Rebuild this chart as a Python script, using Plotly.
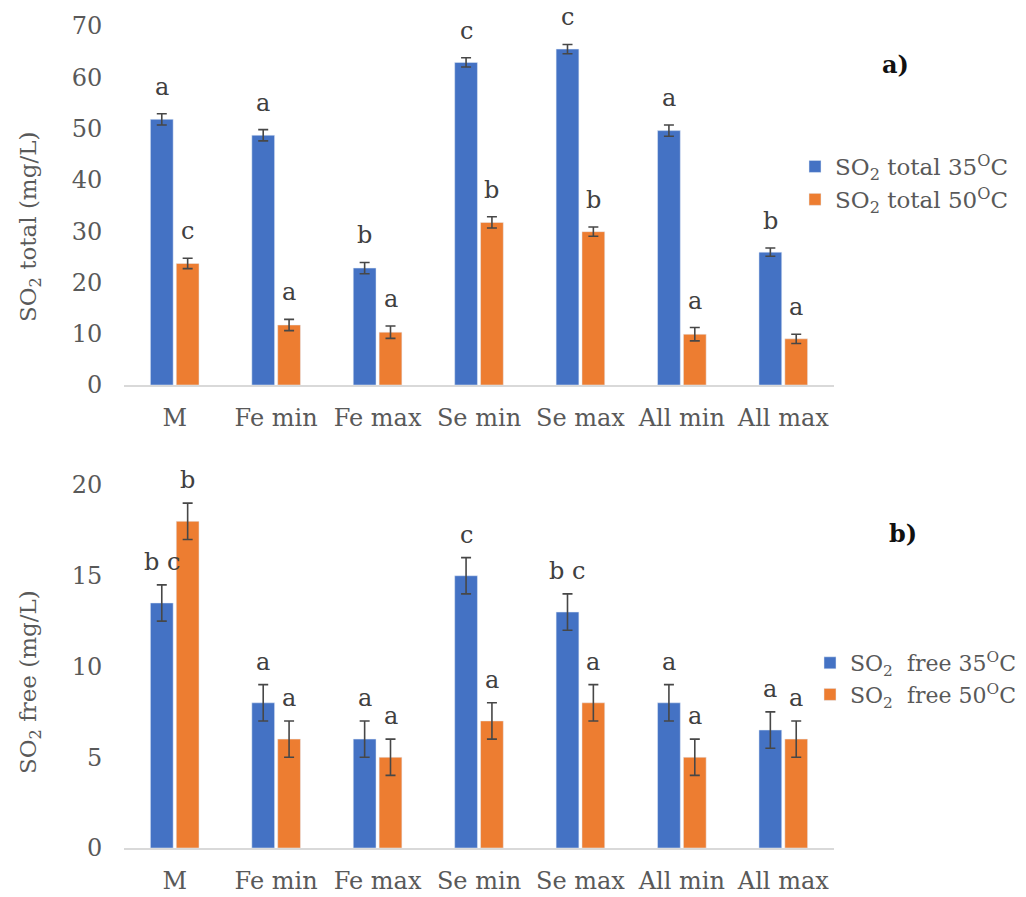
import plotly.graph_objects as go

categories = ["M", "Fe min", "Fe max", "Se min", "Se max", "All min", "All max"]

# Panel a) SO2 total (mg/L)
total_35 = [51.8, 48.7, 22.8, 62.9, 65.5, 49.6, 25.9]
total_35_err = [1.1, 1.1, 1.1, 0.9, 0.9, 1.1, 0.8]
total_50 = [23.7, 11.7, 10.3, 31.7, 29.9, 9.9, 9.0]
total_50_err = [1.0, 1.1, 1.2, 1.1, 0.9, 1.3, 0.9]
total_35_letters = ["a", "a", "b", "c", "c", "a", "b"]
total_50_letters = ["c", "a", "a", "b", "b", "a", "a"]

# Panel b) SO2 free (mg/L)
free_35 = [13.5, 8.0, 6.0, 15.0, 13.0, 8.0, 6.5]
free_35_err = [1.0, 1.0, 1.0, 1.0, 1.0, 1.0, 1.0]
free_50 = [18.0, 6.0, 5.0, 7.0, 8.0, 5.0, 6.0]
free_50_err = [1.0, 1.0, 1.0, 1.0, 1.0, 1.0, 1.0]
free_35_letters = ["b c", "a", "a", "c", "b c", "a", "a"]
free_50_letters = ["b", "a", "a", "a", "a", "a", "a"]

BLUE = "#4472C4"
ORANGE = "#ED7D31"
GRAY = "#595959"
ERR = "#474747"
FONT = "DejaVu Serif"

W, H = 1026, 897
fig = go.Figure()

def err(vals):
    return dict(type="data", array=vals, color=ERR, thickness=1.6, width=5, visible=True)

fig.add_trace(go.Bar(x=categories, y=total_35, error_y=err(total_35_err), marker_color=BLUE,
                     name="SO<sub>2</sub> total 35<sup>O</sup>C", xaxis="x", yaxis="y", legend="legend"))
fig.add_trace(go.Bar(x=categories, y=total_50, error_y=err(total_50_err), marker_color=ORANGE,
                     name="SO<sub>2</sub> total 50<sup>O</sup>C", xaxis="x", yaxis="y", legend="legend"))
fig.add_trace(go.Bar(x=categories, y=free_35, error_y=err(free_35_err), marker_color=BLUE,
                     name="SO<sub>2</sub>  free 35<sup>O</sup>C", xaxis="x2", yaxis="y2", legend="legend2"))
fig.add_trace(go.Bar(x=categories, y=free_50, error_y=err(free_50_err), marker_color=ORANGE,
                     name="SO<sub>2</sub>  free 50<sup>O</sup>C", xaxis="x2", yaxis="y2", legend="legend2"))

x0, x1 = 124 / W, 834 / W
bargap = 0.49
cat_px = (834 - 124) / len(categories)
off = cat_px * (1 - bargap) / 4

annotations = []
def add_letters(vals, errs, letters, side, xref, yref, shift):
    for c, v, e, t in zip(categories, vals, errs, letters):
        annotations.append(dict(x=c, y=v + e, xref=xref, yref=yref, text=t, showarrow=False,
                                xshift=side * off, yshift=shift, xanchor="center", yanchor="middle",
                                font=dict(family=FONT, size=24, color="#404040")))

add_letters(total_35, total_35_err, total_35_letters, -1, "x", "y", 27)
add_letters(total_50, total_50_err, total_50_letters, 1, "x", "y", 27)
add_letters(free_35, free_35_err, free_35_letters, -1, "x2", "y2", 23)
add_letters(free_50, free_50_err, free_50_letters, 1, "x2", "y2", 23)

def paper_text(px, py, text, size, color, angle=0):
    annotations.append(dict(x=px / W, y=1 - py / H, xref="paper", yref="paper", text=text,
                            showarrow=False, xanchor="center", yanchor="middle", textangle=angle,
                            font=dict(family=FONT, size=size, color=color)))

paper_text(895, 65, "<b>a)</b>", 24, "#111111")
paper_text(903, 533, "<b>b)</b>", 24, "#111111")
paper_text(30, 227, "SO<sub>2</sub> total (mg/L)", 23, GRAY, -90)
paper_text(30, 682, "SO<sub>2</sub> free (mg/L)", 23, GRAY, -90)

xaxis_style = dict(showgrid=False, showline=True, linecolor="#D9D9D9", linewidth=1.5,
                   ticks="outside", ticklen=10, tickcolor="rgba(0,0,0,0)", automargin=False,
                   tickfont=dict(family=FONT, size=24, color=GRAY), zeroline=False)
yaxis_style = dict(showgrid=False, showline=False, zeroline=False, automargin=False,
                   ticks="outside", ticklen=16, tickcolor="rgba(0,0,0,0)",
                   tickfont=dict(family=FONT, size=24, color=GRAY))

fig.update_layout(
    width=W, height=H,
    margin=dict(l=0, r=0, t=0, b=0, autoexpand=False),
    paper_bgcolor="white", plot_bgcolor="white",
    barmode="group", bargap=bargap, bargroupgap=0.12,
    font=dict(family=FONT, color=GRAY),
    xaxis=dict(domain=[x0, x1], anchor="y", **xaxis_style),
    yaxis=dict(domain=[1 - 385 / H, 1 - 26 / H], range=[0, 70], dtick=10, anchor="x", **yaxis_style),
    xaxis2=dict(domain=[x0, x1], anchor="y2", **xaxis_style),
    yaxis2=dict(domain=[1 - 848 / H, 1 - 485 / H], range=[0, 20], dtick=5, anchor="x2", **yaxis_style),
    legend=dict(x=795 / W, y=1 - 145 / H, xanchor="left", yanchor="top",
                font=dict(family=FONT, size=23, color=GRAY), bgcolor="rgba(0,0,0,0)",
                itemwidth=30, tracegroupgap=0),
    legend2=dict(x=810 / W, y=1 - 642 / H, xanchor="left", yanchor="top",
                 font=dict(family=FONT, size=22, color=GRAY), bgcolor="rgba(0,0,0,0)",
                 itemwidth=30, tracegroupgap=0),
    annotations=annotations,
    showlegend=True,
)

fig.write_html("out.html", config={"displayModeBar": False},
               post_script="document.body.style.margin='0px';")
